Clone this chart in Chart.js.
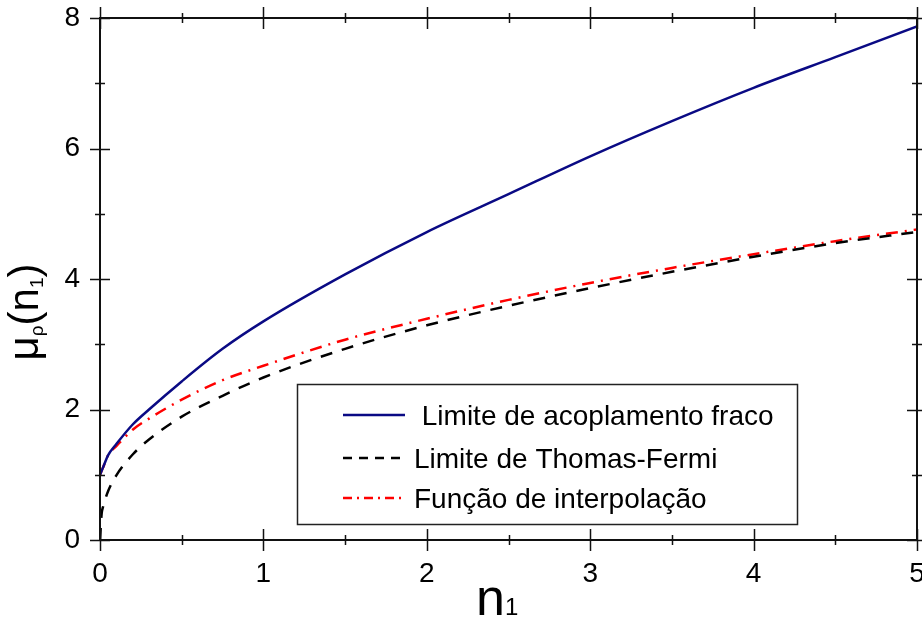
<!DOCTYPE html>
<html>
<head>
<meta charset="utf-8">
<script src="https://cdn.jsdelivr.net/npm/chart.js@4.4.0/dist/chart.umd.min.js"></script>
<style>
  html, body { margin: 0; padding: 0; background: #fff; }
</style>
</head>
<body>
<canvas id="myChart" width="922" height="623"></canvas>
<script>
// values
const nValues = [0, 0.01, 0.02, 0.05, 0.1, 0.2, 0.3, 0.5, 0.75, 1, 1.5, 2, 2.5, 3, 3.5, 4, 4.5, 5];
const weakCoupling = [1.00, 1.06, 1.12, 1.30, 1.47, 1.77, 2.00, 2.43, 2.93, 3.35, 4.07, 4.72, 5.30, 5.88, 6.42, 6.93, 7.40, 7.87];
const thomasFermi = [0.00, 0.40, 0.52, 0.75, 0.99, 1.31, 1.54, 1.89, 2.21, 2.49, 2.93, 3.29, 3.59, 3.86, 4.11, 4.34, 4.55, 4.72];
const interpolation = [1.00, 1.06, 1.12, 1.30, 1.44, 1.69, 1.86, 2.15, 2.45, 2.67, 3.07, 3.39, 3.68, 3.94, 4.17, 4.38, 4.58, 4.76];
const seriesNames = [' Limite de acoplamento fraco', 'Limite de Thomas-Fermi', 'Função de interpolação'];
const xMajor = [0, 1, 2, 3, 4, 5];
const xMinor = [0.5, 1.5, 2.5, 3.5, 4.5];
const yMajor = [0, 2, 4, 6, 8];
const yMinor = [1, 3, 5, 7];

const FONT = 'Liberation Sans, Arial, sans-serif';

function toPoints(ys) {
  return nValues.map((x, i) => ({x: x, y: ys[i]}));
}

const datasets = [
  {label: seriesNames[0], data: toPoints(weakCoupling), borderColor: '#0a0a84', borderWidth: 2.5,
   legendDash: []},
  {label: seriesNames[1], data: toPoints(thomasFermi), borderColor: '#000000', borderWidth: 2.5,
   borderDash: [12, 10], legendDash: [9, 7]},
  {label: seriesNames[2], data: toPoints(interpolation), borderColor: '#ff0000', borderWidth: 2.5,
   borderDash: [12, 7, 2, 7], legendDash: [9, 5, 2, 5]}
];
datasets.forEach(d => {
  d.pointRadius = 0;
  d.fill = false;
  d.cubicInterpolationMode = 'monotone';
});

// axes box, crossing ticks, legend and titles
const framePlugin = {
  id: 'frame',
  afterDraw(chart) {
    const ctx = chart.ctx;
    const ca = chart.chartArea;
    const xs = chart.scales.x, ys = chart.scales.y;
    ctx.save();
    ctx.strokeStyle = '#111';
    ctx.lineWidth = 2;
    ctx.strokeRect(ca.left, ca.top, ca.right - ca.left, ca.bottom - ca.top);

    ctx.lineWidth = 1.5;
    function tickX(v, len) {
      const px = Math.round(xs.getPixelForValue(v)) + 0.5;
      ctx.beginPath();
      ctx.moveTo(px, ca.bottom - len); ctx.lineTo(px, ca.bottom + len);
      ctx.moveTo(px, ca.top - len); ctx.lineTo(px, ca.top + len);
      ctx.stroke();
    }
    function tickY(v, len) {
      const py = Math.round(ys.getPixelForValue(v)) + 0.5;
      ctx.beginPath();
      ctx.moveTo(ca.left - len, py); ctx.lineTo(ca.left + len, py);
      ctx.moveTo(ca.right - len, py); ctx.lineTo(ca.right + len, py);
      ctx.stroke();
    }
    xMajor.forEach(v => tickX(v, 11));
    xMinor.forEach(v => tickX(v, 5));
    yMajor.forEach(v => tickY(v, 10));
    yMinor.forEach(v => tickY(v, 5));

    // legend
    const lx = 297, ly = 384, lw = 500, lh = 140;
    ctx.fillStyle = '#fff';
    ctx.fillRect(lx, ly, lw, lh);
    ctx.strokeStyle = '#222';
    ctx.lineWidth = 1.5;
    ctx.strokeRect(lx + 0.5, ly + 0.5, lw, lh);
    const rows = [31, 74, 114];
    ctx.font = '28px ' + FONT;
    ctx.textBaseline = 'middle';
    ctx.textAlign = 'left';
    chart.data.datasets.forEach((d, i) => {
      const y = ly + rows[i];
      ctx.strokeStyle = d.borderColor;
      ctx.lineWidth = 2.5;
      ctx.setLineDash(d.legendDash);
      ctx.beginPath();
      ctx.moveTo(lx + 46, y); ctx.lineTo(lx + 108, y);
      ctx.stroke();
      ctx.setLineDash([]);
      ctx.fillStyle = '#000';
      ctx.fillText(d.label, lx + 117, y + 2);
    });

    // axis titles with subscripts
    ctx.fillStyle = '#000';
    ctx.textBaseline = 'alphabetic';
    function drawParts(parts, x0, y0) {
      let x = x0;
      parts.forEach(p => {
        ctx.font = p[1] + 'px ' + FONT;
        ctx.fillText(p[0], x, y0 + p[2]);
        x += ctx.measureText(p[0]).width;
      });
    }
    function partsWidth(parts) {
      let w = 0;
      parts.forEach(p => { ctx.font = p[1] + 'px ' + FONT; w += ctx.measureText(p[0]).width; });
      return w;
    }
    const yTitle = [['μ', 42, 0], ['ρ', 19, 5], ['(n', 42, 0], ['1', 19, 5], [')', 42, 0]];
    ctx.save();
    ctx.translate(38, 312);
    ctx.rotate(-Math.PI / 2);
    drawParts(yTitle, -partsWidth(yTitle) / 2, 0);
    ctx.restore();

    const xTitle = [['n', 52, 0], ['1', 24, 0]];
    drawParts(xTitle, 476, 615);
    ctx.restore();
  }
};

const ctx = document.getElementById('myChart').getContext('2d');
const myChart = new Chart(ctx, {
  type: 'line',
  data: {datasets: datasets},
  options: {
    responsive: false,
    animation: false,
    layout: {padding: {top: 18, right: 5, left: 0, bottom: 0}},
    plugins: {legend: {display: false}, tooltip: {enabled: false}},
    scales: {
      x: {
        type: 'linear', min: 0, max: 5,
        ticks: {stepSize: 1, color: '#000', padding: 17, font: {family: FONT, size: 28}},
        grid: {display: false, drawTicks: false},
        border: {display: false},
        afterFit(scale) {
          scale.height = 83;
          scale.paddingLeft = 0; scale.paddingRight = 0;
        }
      },
      y: {
        type: 'linear', min: 0, max: 8,
        ticks: {stepSize: 2, color: '#000', padding: 20, font: {family: FONT, size: 28}},
        grid: {display: false, drawTicks: false},
        border: {display: false},
        afterFit(scale) {
          scale.width = 100;
          scale.paddingTop = 0; scale.paddingBottom = 0;
        }
      }
    }
  },
  plugins: [framePlugin]
});
</script>
</body>
</html>
